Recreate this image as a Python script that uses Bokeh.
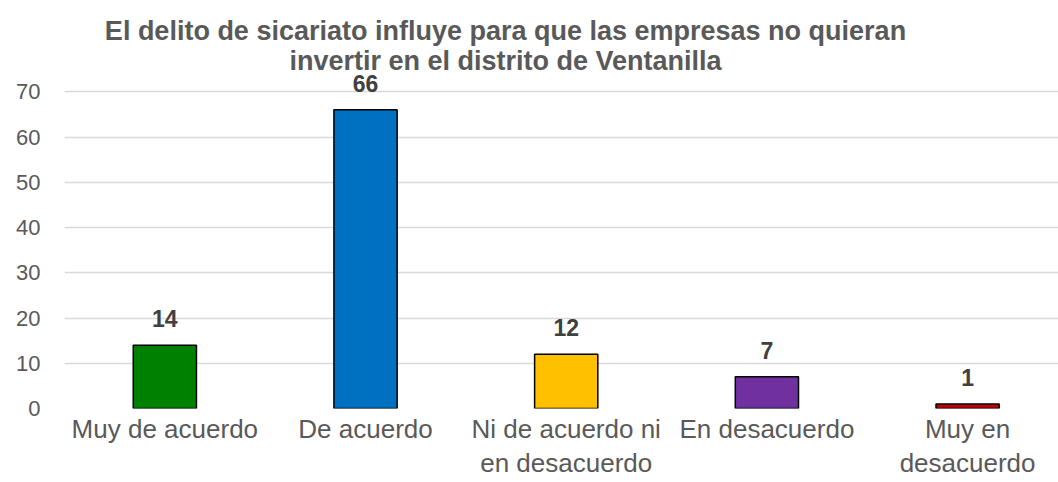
from bokeh.plotting import figure
from bokeh.models import ColumnDataSource, Range1d, FixedTicker, Label
from bokeh.core.properties import value
from bokeh.embed import file_html
from bokeh.resources import INLINE

categories = ["Muy de acuerdo", "De acuerdo", "Ni de acuerdo ni en desacuerdo",
              "En desacuerdo", "Muy en desacuerdo"]
tick_labels = ["Muy de acuerdo", "De acuerdo", "Ni de acuerdo ni\nen desacuerdo",
               "En desacuerdo", "Muy en\ndesacuerdo"]
values = [14, 66, 12, 7, 1]
colors = ["#008000", "#0070C0", "#FFC000", "#7030A0", "#C00000"]
y_ticks = [0, 10, 20, 30, 40, 50, 60, 70]
title_lines = ["El delito de sicariato influye para que las empresas no quieran",
               "invertir en el distrito de Ventanilla"]

FONT = "Liberation Sans"
xs = list(range(len(categories)))
src = ColumnDataSource(dict(x=xs, top=values, color=colors,
                            label=[str(v) for v in values]))

p = figure(width=1058, height=482, output_backend="svg", toolbar_location=None,
           x_range=Range1d(-0.5, 4.453), y_range=Range1d(0, 88.4),
           min_border_left=64, min_border_right=0, min_border_top=8,
           min_border_bottom=74)
p.outline_line_color = None
p.background_fill_color = "white"
p.border_fill_color = "white"

p.vbar(x="x", top="top", width=0.315, bottom=0, fill_color="color",
       line_color="black", line_width=1.5, source=src)

p.text(x="x", y="top", text="label", source=src, text_align="center",
       text_baseline="bottom", y_offset=-18, text_font=value(FONT),
       text_font_size="23px", text_font_style="bold", text_color="#404040")

# x axis with category labels
p.xaxis.ticker = FixedTicker(ticks=xs)
p.xaxis.major_label_overrides = {i: t for i, t in enumerate(tick_labels)}
p.xaxis.axis_line_color = None
p.xaxis.major_tick_line_color = None
p.xaxis.minor_tick_line_color = None
p.xaxis.major_tick_out = 0
p.xaxis.major_tick_in = 0
p.xaxis.major_label_standoff = 5
p.xaxis.major_label_text_font = FONT
p.xaxis.major_label_text_font_size = "26px"
p.xaxis.major_label_text_line_height = 1.15
p.xaxis.major_label_text_color = "#595959"

p.yaxis.ticker = FixedTicker(ticks=y_ticks)
p.yaxis.axis_line_color = None
p.yaxis.major_tick_line_color = None
p.yaxis.minor_tick_line_color = None
p.yaxis.major_tick_out = 0
p.yaxis.major_tick_in = 0
p.yaxis.major_label_standoff = 24
p.yaxis.major_label_text_font = FONT
p.yaxis.major_label_text_font_size = "22px"
p.yaxis.major_label_text_color = "#595959"

p.xgrid.grid_line_color = None
p.ygrid.ticker = FixedTicker(ticks=y_ticks)
p.ygrid.grid_line_color = "#D9D9D9"
p.ygrid.grid_line_width = 1.5

for i, t in enumerate(title_lines):
    p.add_layout(Label(x=441, y=378 - 30 * i, x_units="screen", y_units="screen",
                       text=t, text_align="center", text_baseline="middle",
                       text_font=FONT, text_font_size="27px", text_font_style="bold",
                       text_color="#595959"))

open("out.html", "w").write(file_html(p, INLINE))
